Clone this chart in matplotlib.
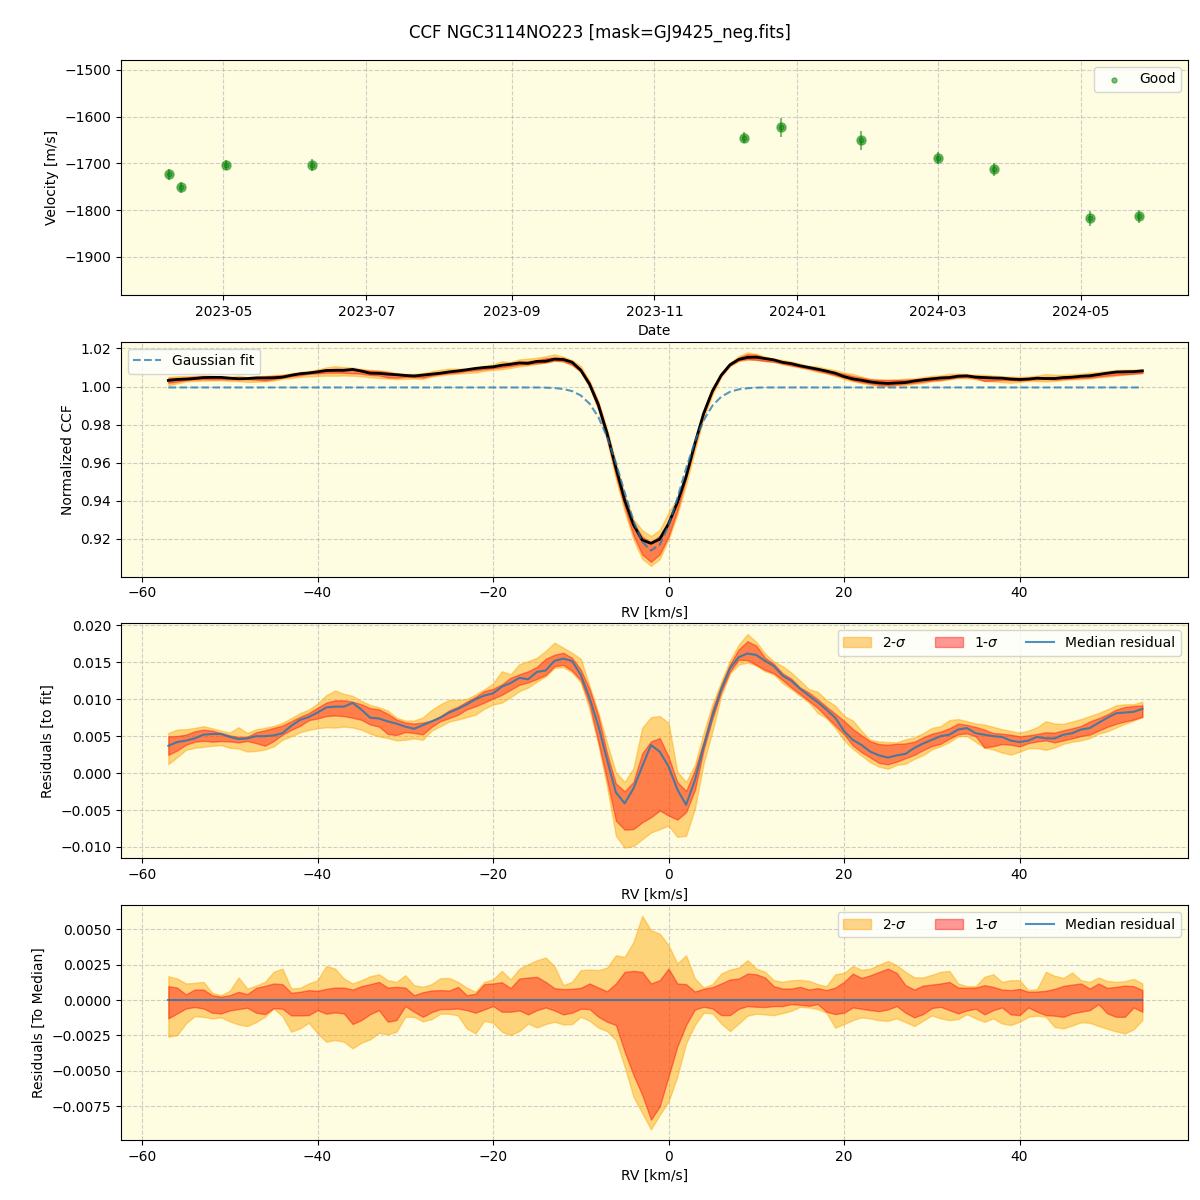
import numpy as np
import matplotlib
matplotlib.use('Agg')
import matplotlib.pyplot as plt
import matplotlib.dates as mdates


TITLE = 'CCF NGC3114NO223 [mask=GJ9425_neg.fits]'
BG_COLOR = '#fefce1'

# radial velocity time series (top panel)
obs_dates = ['2023-04-08', '2023-04-13', '2023-05-02', '2023-06-08', '2023-12-09', '2023-12-25',
             '2024-01-28', '2024-03-01', '2024-03-25', '2024-05-05', '2024-05-26']
velocity = [-1723, -1751, -1704, -1704, -1645, -1623, -1651, -1689, -1713, -1817, -1813]
velocity_err = [12, 12, 11, 13, 12, 21, 20, 13, 14, 16, 14]

# RV grid of the CCF, km/s
rv = np.arange(-57, 55)

# gaussian fit of the CCF, one value per rv step
gauss_fit = [0.9995] * 43 + [
    0.9994, 0.9992, 0.9987, 0.9976, 0.9953, 0.9910, 0.9840, 0.9735, 0.9599, 0.9444,
    0.9295, 0.9184, 0.9138, 0.9169, 0.9269, 0.9412, 0.9569, 0.9710, 0.9822, 0.9899,
    0.9946, 0.9972, 0.9985, 0.9991, 0.9994] + [0.9995] * 44

# residuals to the fit, units of 1e-4
resid_med = [37, 42, 44, 47, 52, 53, 53, 49, 46, 47,
             50, 50, 51, 54, 64, 72, 76, 82, 89, 90,
             90, 95, 86, 75, 74, 70, 67, 63, 60, 65,
             70, 75, 82, 87, 93, 100, 105, 108, 117, 122,
             129, 127, 137, 139, 152, 155, 152, 133, 102, 64,
             18, -26, -41, -21, 9, 38, 29, 9, -22, -43,
             -10, 36, 77, 113, 142, 157, 162, 160, 152, 145,
             132, 125, 114, 105, 96, 86, 75, 57, 45, 38,
             29, 24, 21, 24, 26, 34, 40, 45, 50, 52,
             59, 61, 54, 52, 50, 49, 44, 42, 44, 49,
             47, 47, 52, 54, 59, 61, 68, 75, 81, 82,
             83, 87]
resid_hi2 = [54.3, 58.9, 59.4, 61.2, 63.5, 60.7, 57.5, 54.8, 62.1, 54.3,
             59.4, 61.2, 63.9, 68.0, 74.4, 81.3, 85.9, 94.1, 105.5, 111.9,
             107.3, 104.6, 97.7, 92.3, 89.1, 84.9, 74.9, 71.2, 71.2, 75.4,
             85.4, 93.2, 99.1, 99.1, 100.5, 106.4, 113.3, 121.5, 137.9, 133.8,
             147.5, 151.6, 156.2, 165.3, 176.7, 169.9, 163.0, 154.8, 118.3, 81.7,
             40.6, 0.9, -11.9, 6.4, 61.2, 75.8, 77.2, 68.0, 1.8, -11.9,
             11.0, 54.3, 93.2, 123.8, 152.5, 174.0, 188.2, 177.7, 162.1, 151.2,
             144.8, 136.1, 125.1, 113.7, 110.1, 99.1, 91.3, 77.6, 71.2, 57.1,
             44.8, 42.9, 42.0, 41.6, 45.7, 48.4, 53.9, 61.2, 63.5, 71.7,
             73.1, 70.3, 67.1, 65.8, 62.6, 59.4, 57.1, 54.8, 57.5, 62.1,
             70.3, 67.1, 66.7, 69.9, 73.1, 77.2, 81.3, 86.3, 91.8, 93.2,
             93.2, 96.8]
resid_hi1 = [49.8, 50.2, 52.1, 56.6, 58.9, 57.5, 54.3, 51.2, 49.0, 49.3,
             55.3, 58.0, 61.2, 64.4, 70.3, 76.3, 81.3, 88.6, 95.5, 98.6,
             98.6, 96.8, 93.2, 88.1, 86.3, 80.4, 72.6, 68.5, 67.1, 68.5,
             71.2, 77.2, 84.9, 90.0, 96.8, 103.2, 111.0, 114.2, 120.1, 129.2,
             133.8, 137.9, 143.9, 154.8, 160.3, 163.0, 156.2, 140.2, 113.7, 77.2,
             26.9, -14.2, -24.7, -11.9, 26.9, 42.9, 47.5, 22.4, -12.0, -24.2,
             4.1, 42.9, 86.3, 119.2, 147.1, 167.6, 178.6, 172.6, 156.2, 148.0,
             135.2, 127.9, 116.0, 109.2, 100.0, 90.0, 80.4, 70.8, 59.8, 51.2,
             42.9, 39.3, 38.4, 39.7, 40.2, 42.5, 48.4, 53.4, 56.2, 60.7,
             67.1, 65.3, 62.6, 58.9, 54.3, 53.4, 52.1, 49.8, 51.2, 53.0,
             55.3, 54.8, 58.0, 60.7, 63.9, 69.9, 74.4, 79.5, 85.9, 89.5,
             90.9, 91.8]
resid_lo1 = [24.7, 30.6, 38.4, 42.5, 43.8, 42.5, 43.4, 42.9, 41.6, 43.4,
             40.6, 37.0, 43.4, 52.1, 58.5, 63.9, 71.7, 74.0, 77.2, 78.1,
             77.2, 74.9, 72.2, 65.8, 63.0, 53.0, 51.6, 55.7, 54.3, 52.5,
             62.6, 70.3, 74.4, 79.0, 86.3, 90.4, 95.5, 100.9, 106.0, 112.8,
             119.7, 122.9, 127.4, 132.9, 144.8, 146.6, 138.8, 126.0, 93.2, 42.9,
             -9.6, -64.4, -76.7, -75.8, -66.7, -59.8, -50.7, -57.5, -63.0, -53.0,
             -23.3, 31.5, 73.5, 110.1, 137.5, 153.5, 153.0, 146.6, 139.8, 135.2,
             126.0, 116.0, 106.9, 97.7, 88.1, 76.3, 64.4, 52.5, 37.4, 28.3,
             21.0, 13.7, 11.9, 15.5, 20.1, 24.7, 31.1, 36.5, 39.7, 46.6,
             52.5, 53.9, 49.8, 34.7, 36.5, 39.3, 38.4, 36.1, 40.6, 42.9,
             44.3, 41.6, 44.3, 47.0, 50.2, 52.1, 57.5, 62.6, 66.7, 69.9,
             72.6, 76.3]
resid_lo2 = [12.3, 21.5, 31.5, 34.3, 35.6, 37.0, 37.9, 34.3, 33.3, 29.2,
             30.1, 32.0, 36.1, 45.2, 49.8, 55.3, 58.5, 60.7, 62.1, 61.7,
             63.0, 61.7, 58.9, 53.4, 49.8, 47.5, 44.3, 45.2, 47.0, 45.2,
             57.5, 63.5, 69.9, 72.6, 75.8, 79.0, 87.2, 92.7, 95.5, 102.8,
             111.0, 116.0, 123.8, 131.1, 142.5, 143.4, 136.6, 122.9, 86.3, 38.4,
             -18.7, -84.9, -100.9, -98.6, -89.5, -80.4, -75.8, -71.2, -86.3, -84.9,
             -48.4, 13.2, 56.6, 104.6, 135.2, 147.1, 149.8, 145.7, 137.9, 133.8,
             121.9, 113.7, 104.6, 95.5, 81.7, 74.4, 61.2, 44.3, 32.9, 23.7,
             14.6, 8.7, 5.9, 11.0, 12.8, 19.2, 24.2, 32.0, 36.5, 42.0,
             49.8, 50.2, 42.5, 34.3, 32.0, 27.9, 25.1, 28.8, 33.8, 33.8,
             31.5, 34.7, 39.7, 42.5, 44.3, 47.5, 53.4, 56.6, 61.7, 66.7,
             71.2, 75.8]

# residuals to the median CCF, units of 1e-4
dev_hi2 = [16.9, 15.3, 11.8, 12.2, 12.9, 5.2, 3.5, 6.6, 16.0, 8.2,
           10.3, 12.9, 20.0, 22.3, 8.2, 8.7, 11.8, 14.1, 24.2, 22.3,
           15.3, 11.8, 14.1, 16.9, 18.3, 14.1, 12.9, 17.6, 10.6, 9.4,
           11.3, 15.5, 15.7, 12.9, 8.9, 5.9, 12.9, 14.6, 20.7, 14.6,
           22.3, 25.4, 28.2, 30.1, 24.0, 10.6, 12.9, 21.2, 21.6, 21.2,
           23.0, 31.7, 30.6, 41.1, 59.6, 49.4, 47.0, 38.8, 25.9, 31.7,
           15.3, 8.9, 11.3, 18.8, 21.6, 23.0, 28.2, 22.3, 20.0, 14.1,
           12.9, 14.1, 14.3, 13.6, 11.3, 9.9, 18.3, 19.3, 24.2, 21.4,
           22.3, 25.1, 27.7, 24.7, 20.0, 16.2, 16.0, 17.9, 20.0, 20.7,
           11.8, 9.9, 9.9, 16.5, 18.3, 12.9, 14.1, 14.1, 7.1, 7.8,
           20.0, 17.2, 15.7, 19.5, 14.1, 12.9, 16.0, 13.6, 12.9, 13.4,
           15.0, 11.8]
dev_hi1 = [9.9, 8.9, 4.0, 7.5, 7.5, 3.5, 2.4, 3.5, 5.9, 4.2,
           8.7, 10.1, 11.8, 11.3, 5.2, 5.9, 7.1, 6.6, 8.0, 8.9,
           8.9, 7.5, 9.9, 11.3, 12.9, 8.9, 9.4, 8.9, 3.5, 5.6,
           6.8, 7.1, 6.8, 9.4, 3.5, 4.5, 11.3, 11.8, 12.7, 8.5,
           15.3, 16.0, 16.5, 12.9, 8.5, 7.8, 8.0, 8.7, 11.8, 8.9,
           6.3, 11.8, 20.0, 20.7, 20.0, 11.8, 14.1, 22.3, 11.8, 11.3,
           6.1, 8.0, 9.2, 11.8, 14.6, 15.3, 18.8, 18.3, 16.0, 9.9,
           8.2, 8.2, 9.4, 7.5, 8.5, 7.1, 8.9, 12.9, 18.8, 15.7,
           17.6, 20.0, 22.3, 19.3, 10.6, 7.5, 10.3, 11.0, 11.8, 12.9,
           8.9, 8.7, 8.9, 10.6, 9.4, 7.5, 7.1, 8.0, 5.9, 6.1,
           6.6, 8.0, 10.1, 11.0, 11.8, 8.2, 11.8, 8.7, 9.4, 10.3,
           9.9, 7.1]
dev_lo1 = [-12.9, -9.4, -5.9, -4.9, -5.9, -8.9, -9.4, -7.3, -6.3, -5.4,
           -8.9, -9.9, -5.6, -6.1, -10.8, -10.8, -10.6, -7.1, -9.6, -8.7,
           -9.4, -16.9, -14.1, -9.9, -7.1, -15.3, -14.1, -4.2, -8.2, -11.8,
           -8.5, -6.3, -6.3, -5.9, -7.1, -8.9, -6.6, -4.2, -8.2, -8.2,
           -7.3, -10.1, -7.1, -5.2, -7.3, -10.1, -8.9, -6.1, -6.3, -11.8,
           -15.3, -17.6, -36.4, -52.9, -67.0, -84.6, -75.2, -54.1, -32.9, -17.6,
           -6.6, -4.7, -5.9, -10.6, -10.6, -6.1, -4.2, -4.7, -4.9, -4.2,
           -4.2, -2.8, -3.3, -4.0, -2.8, -8.2, -9.9, -8.9, -5.2, -6.1,
           -7.1, -7.8, -6.6, -4.2, -8.9, -12.2, -9.9, -5.6, -4.7, -7.1,
           -9.4, -7.3, -6.1, -10.1, -7.1, -5.2, -10.1, -10.6, -5.2, -8.2,
           -10.6, -11.0, -11.8, -9.4, -8.2, -7.1, -2.8, -9.4, -11.8, -11.8,
           -5.2, -8.2]
dev_lo2 = [-25.9, -24.7, -16.5, -11.3, -11.8, -12.9, -12.2, -15.0, -17.2, -18.3,
           -15.5, -11.8, -5.9, -11.3, -22.3, -20.0, -16.0, -23.5, -29.4, -28.2,
           -29.4, -34.1, -30.1, -27.7, -23.0, -24.2, -22.3, -11.8, -11.8, -15.0,
           -13.4, -9.6, -9.6, -10.8, -20.0, -23.5, -14.6, -16.0, -22.3, -24.7,
           -21.9, -16.5, -19.3, -16.9, -15.3, -17.2, -16.9, -11.8, -14.6, -19.5,
           -21.9, -28.2, -47.0, -68.2, -79.9, -91.4, -81.1, -71.7, -54.1, -30.6,
           -17.6, -8.9, -9.4, -16.5, -21.9, -16.5, -11.0, -9.6, -10.1, -10.6,
           -9.2, -7.5, -4.7, -5.2, -6.3, -8.9, -19.5, -16.9, -14.1, -12.2,
           -12.9, -14.3, -14.6, -12.9, -15.5, -18.3, -14.6, -10.8, -12.9, -14.1,
           -13.4, -9.9, -12.9, -15.3, -12.9, -16.5, -17.6, -15.3, -11.8, -11.0,
           -11.8, -19.0, -20.0, -17.9, -15.7, -16.0, -18.3, -20.2, -22.1, -23.5,
           -20.7, -14.1]


def scaled(values):
    return np.array(values) * 1e-4


def style_axes(ax):
    ax.set_facecolor(BG_COLOR)
    ax.grid(True, linestyle='--', alpha=0.6)
    ax.set_axisbelow(True)


def draw_bands(ax, base, lo2, lo1, hi1, hi2, with_labels):
    ax.fill_between(rv, base + lo2, base + hi2, color='orange', alpha=0.45,
                    label='2-$\\sigma$' if with_labels else None)
    ax.fill_between(rv, base + lo1, base + hi1, color='red', alpha=0.4,
                    label='1-$\\sigma$' if with_labels else None)


fig, axes = plt.subplots(4, 1, figsize=(12, 12), dpi=100)
fig.subplots_adjust(left=0.1008, right=0.99, top=0.95, bottom=0.05, hspace=0.2)
fig.suptitle(TITLE, fontsize=12)

# velocity vs time
ax = axes[0]
style_axes(ax)
t = np.array(obs_dates, dtype='datetime64[D]')
ax.errorbar(t, velocity, yerr=velocity_err, fmt='o', color='green', alpha=0.5, markersize=6.5)
ax.scatter(t, velocity, color='green', s=13, alpha=0.5, label='Good')
ax.set_ylim(-1981, -1479)
ax.xaxis.set_major_locator(mdates.MonthLocator(bymonth=[1, 3, 5, 7, 9, 11]))
ax.xaxis.set_major_formatter(mdates.DateFormatter('%Y-%m'))
ax.set_xlabel('Date')
ax.set_ylabel('Velocity [m/s]')
ax.legend(loc='upper right')

fit = np.array(gauss_fit)
med = scaled(resid_med)
r_lo2, r_lo1, r_hi1, r_hi2 = scaled(resid_lo2), scaled(resid_lo1), scaled(resid_hi1), scaled(resid_hi2)

# CCF with fit
ax = axes[1]
style_axes(ax)
draw_bands(ax, fit, r_lo2, r_lo1, r_hi1, r_hi2, False)
ax.plot(rv, fit + med, color='black', lw=2)
ax.plot(rv, fit, color='tab:blue', ls='--', alpha=0.75, lw=1.5, label='Gaussian fit')
ax.set_ylabel('Normalized CCF')
ax.legend(loc='upper left')

# residuals to fit
ax = axes[2]
style_axes(ax)
draw_bands(ax, 0, r_lo2, r_lo1, r_hi1, r_hi2, True)
ax.plot(rv, med, color='tab:blue', alpha=0.8, lw=1.5, label='Median residual')
ax.set_ylabel('Residuals [to fit]')
ax.legend(loc='upper right', ncol=3)

# residuals to median
ax = axes[3]
style_axes(ax)
draw_bands(ax, 0, scaled(dev_lo2), scaled(dev_lo1), scaled(dev_hi1), scaled(dev_hi2), True)
ax.plot(rv, np.zeros(len(rv)), color='tab:blue', alpha=0.8, lw=1.5, label='Median residual')
ax.set_ylabel('Residuals [To Median]')
ax.legend(loc='upper right', ncol=3)

for ax in axes[1:]:
    ax.set_xlim(-62.4, 59.2)
    ax.set_xlabel('RV [km/s]')

fig.savefig('out.png', dpi=100)
